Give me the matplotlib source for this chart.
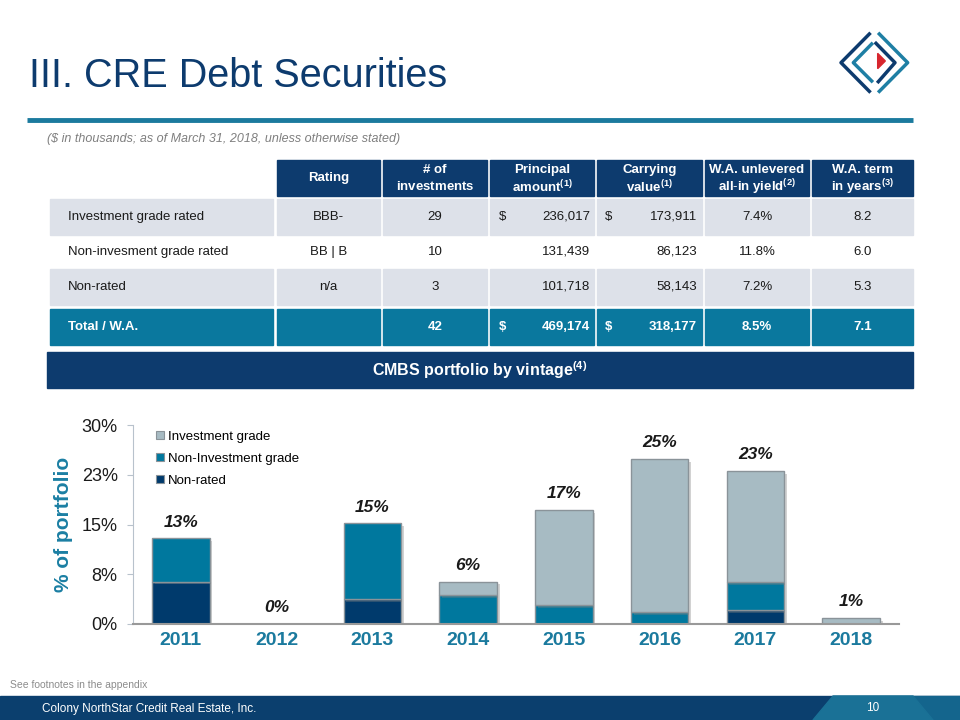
import matplotlib
matplotlib.use("Agg")
import matplotlib.pyplot as plt
from matplotlib.patches import Rectangle, Polygon, Patch
import matplotlib.patheffects as pe

plt.rcParams['font.family'] = ['Liberation Sans', 'DejaVu Sans']
plt.rcParams['mathtext.fontset'] = 'custom'
plt.rcParams['mathtext.rm'] = 'Liberation Sans'
plt.rcParams['mathtext.bf'] = 'Liberation Sans:bold'
plt.rcParams['mathtext.it'] = 'Liberation Sans:italic'

# table data
row_names = ["Investment grade rated", "Non-invesment grade rated", "Non-rated", "Total / W.A."]
ratings = ["BBB-", "BB | B", "n/a", ""]
n_investments = ["29", "10", "3", "42"]
principal = ["236,017", "131,439", "101,718", "469,174"]
carrying = ["173,911", "86,123", "58,143", "318,177"]
show_dollar = [True, False, False, True]
wa_yield = ["7.4%", "11.8%", "7.2%", "8.5%"]
wa_term = ["8.2", "6.0", "5.3", "7.1"]
header_top = ["", "# of", "Principal", "Carrying", "W.A. unlevered", "W.A. term"]
header_bot = ["", r"$\mathbf{investments}$", r"$\mathbf{amount}^{\mathbf{(1)}}$",
              r"$\mathbf{value}^{\mathbf{(1)}}$", r"$\mathbf{all\text{-}in\ yield}^{\mathbf{(2)}}$",
              r"$\mathbf{in\ years}^{\mathbf{(3)}}$"]

# chart data (% of portfolio)
years = ["2011", "2012", "2013", "2014", "2015", "2016", "2017", "2018"]
non_rated = [6.4, 0, 3.8, 0, 0, 0, 2.1, 0]
non_ig = [6.5, 0, 11.4, 4.3, 2.9, 1.8, 4.2, 0]
inv_grade = [0, 0, 0, 2.1, 14.3, 23.1, 16.8, 0.9]
totals_txt = ["13%", "0%", "15%", "6%", "17%", "25%", "23%", "1%"]
series_names = ["Investment grade", "Non-Investment grade", "Non-rated"]
yticks = [0, 7.5, 15, 22.5, 30]
ytick_txt = ["0%", "8%", "15%", "23%", "30%"]

NAVY = "#0D3B6E"
TEAL = "#0A789E"
GRAY_ROW = "#DDE1E9"
IG_C = "#A7BBC3"
NIG_C = "#00789E"
NR_C = "#003A6C"
EDGE = "#8A9399"

fig = plt.figure(figsize=(9.6, 7.2), dpi=100)
bg = fig.add_axes([0, 0, 1, 1])
bg.set_xlim(0, 960)
bg.set_ylim(720, 0)
bg.axis('off')

# title block
bg.text(29, 76, "III. CRE Debt Securities", fontsize=28.5, color=NAVY, va='center')
bg.plot([27, 913], [119.5, 119.5], color="#1B7A9E", lw=3.5, solid_capstyle='butt')
bg.text(47, 139, "($ in thousands; as of March 31, 2018, unless otherwise stated)",
        fontsize=9, style='italic', color="#7F7F7F", va='center')

# logo
def lx(z):
    return 830 + z / 3
def ly(z):
    return 20 + z / 3
navy_out = [(118, 42), (33, 128), (118, 214)]
navy_in = [(138, 70), (195, 128), (145, 185)]
teal_out = [(148, 42), (233, 128), (148, 214)]
teal_in = [(125, 72), (70, 128), (125, 183)]
for pts, c in [(navy_out, NAVY), (navy_in, NAVY), (teal_out, "#1E7FA4"), (teal_in, "#1E7FA4")]:
    bg.plot([lx(p[0]) for p in pts], [ly(p[1]) for p in pts], color=c, lw=2.5)
bg.add_patch(Polygon([(lx(143), ly(100)), (lx(166), ly(123)), (lx(143), ly(146))],
                     closed=True, color="#D7262E"))

# table
cols = [(50, 273), (277, 380), (383, 487), (490, 594), (597, 702), (705, 809), (812, 913)]
hdr_y = (160, 195.5)
rows_y = [(199, 234.5), (235, 268.5), (269, 304.5), (308.5, 344.5)]
for i, (x0, x1) in enumerate(cols[1:]):
    bg.add_patch(Rectangle((x0, hdr_y[0]), x1 - x0, hdr_y[1] - hdr_y[0], color=NAVY))
    cx = (x0 + x1) / 2
    if i == 0:
        bg.text(cx, 178, "Rating", color='white', fontsize=9.5, fontweight='bold', ha='center', va='center')
    else:
        bg.text(cx, 170, header_top[i], color='white', fontsize=9.5, fontweight='bold', ha='center', va='center')
        bg.text(cx, 187, header_bot[i], color='white', fontsize=9.5, ha='center', va='center')

for r in range(4):
    y0, y1 = rows_y[r]
    fill = GRAY_ROW if r in (0, 2) else (TEAL if r == 3 else None)
    if fill:
        for (x0, x1) in cols:
            bg.add_patch(Rectangle((x0, y0), x1 - x0, y1 - y0, color=fill))
    tc = 'white' if r == 3 else '#1A1A1A'
    fw = 'bold' if r == 3 else 'normal'
    cy = (y0 + y1) / 2
    kw = dict(color=tc, fontsize=9.5, fontweight=fw, va='center')
    bg.text(68, cy, row_names[r], ha='left', **kw)
    bg.text((cols[1][0] + cols[1][1]) / 2, cy, ratings[r], ha='center', **kw)
    bg.text((cols[2][0] + cols[2][1]) / 2, cy, n_investments[r], ha='center', **kw)
    if show_dollar[r]:
        bg.text(499, cy, "$", ha='left', **kw)
        bg.text(605, cy, "$", ha='left', **kw)
    bg.text(590, cy, principal[r], ha='right', **kw)
    bg.text(697, cy, carrying[r], ha='right', **kw)
    bg.text((cols[5][0] + cols[5][1]) / 2, cy, wa_yield[r], ha='center', **kw)
    bg.text((cols[6][0] + cols[6][1]) / 2, cy, wa_term[r], ha='center', **kw)

# banner
bg.add_patch(Rectangle((47, 352), 866, 36, color=NAVY))
bg.text(480, 370, r"$\mathbf{CMBS\ portfolio\ by\ vintage}^{\mathbf{(4)}}$", color='white',
        fontsize=11.5, ha='center', va='center')

# footer
bg.text(10, 685, "See footnotes in the appendix", fontsize=7.5, color="#8C8C8C", va='center')
bg.add_patch(Rectangle((0, 696), 960, 24, color="#0B3F6E"))
bg.add_patch(Polygon([(833, 696), (960, 696), (960, 720), (813, 720)], closed=True, color="#14658D"))
bg.add_patch(Polygon([(833, 696), (913, 696), (933, 720), (813, 720)], closed=True, color="#1A7196"))
bg.text(42, 709, "Colony NorthStar Credit Real Estate, Inc.", fontsize=8.5, color='white', va='center')
bg.text(873, 708, "10", fontsize=8.5, color='white', va='center', ha='center')

# chart
ax = fig.add_axes([133 / 960, 1 - 624 / 720, 766 / 960, 199 / 720])
ax.set_facecolor('none')
x = range(len(years))
shadow = [pe.SimplePatchShadow(offset=(2, -2), shadow_rgbFace='#808080', alpha=0.35), pe.Normal()]
bottom2 = [a + b for a, b in zip(non_rated, non_ig)]
h_nr = ax.bar(x, non_rated, width=0.6, color=NR_C, edgecolor=EDGE, lw=1, path_effects=shadow)
h_nig = ax.bar(x, non_ig, width=0.6, bottom=non_rated, color=NIG_C, edgecolor=EDGE, lw=1, path_effects=shadow)
h_ig = ax.bar(x, inv_grade, width=0.6, bottom=bottom2, color=IG_C, edgecolor=EDGE, lw=1, path_effects=shadow)
for bars in (h_nr, h_nig, h_ig):
    for b in bars:
        if b.get_height() == 0:
            b.set_visible(False)

totals = [a + b for a, b in zip(bottom2, inv_grade)]
for i, t in enumerate(totals):
    ax.text(i, t + 1.3, totals_txt[i], ha='center', va='bottom', fontsize=12.5,
            fontweight='bold', style='italic', color='#1A1A1A')

ax.set_xlim(-0.5, 7.5)
ax.set_ylim(0, 30)
ax.set_yticks(yticks)
ax.set_yticklabels(ytick_txt, fontsize=13, color='#1A1A1A')
ax.set_xticks(list(x))
ax.set_xticklabels(years, fontsize=14, fontweight='bold', color="#1B7A9E")
ax.tick_params(axis='x', length=0, pad=6)
ax.tick_params(axis='y', length=4, color="#B8C2CC", pad=7)
for s in ('top', 'right'):
    ax.spines[s].set_visible(False)
ax.spines['left'].set_color("#B8C2CC")
ax.spines['bottom'].set_color("#999999")
ax.spines['bottom'].set_linewidth(1.5)
ax.set_ylabel("% of portfolio", fontsize=15, fontweight='bold', color="#1B7FA3")
ax.yaxis.set_label_coords(-0.078, 0.5)

handles = [Patch(facecolor=c, edgecolor=EDGE, lw=0.8) for c in (IG_C, NIG_C, NR_C)]
ax.legend(handles, series_names, loc='upper left', bbox_to_anchor=(0.015, 1.03), frameon=False,
          fontsize=9.5, handlelength=0.6, handleheight=0.6, handletextpad=0.3, labelspacing=0.75)

fig.savefig("out.png", dpi=100)
